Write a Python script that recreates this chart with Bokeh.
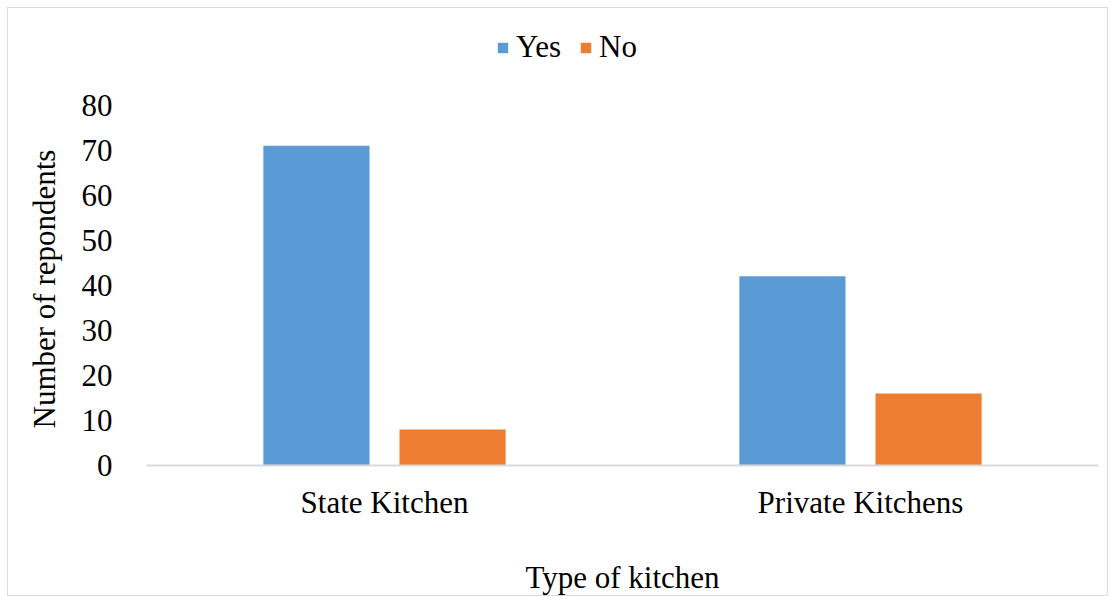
from bokeh.plotting import figure
from bokeh.models import FactorRange, Range1d, FixedTicker, Legend, LegendItem, ColumnDataSource, Title
from bokeh.transform import dodge
from bokeh.embed import file_html
from bokeh.resources import INLINE

categories = ["State Kitchen", "Private Kitchens"]
series = ["Yes", "No"]
yes_values = [71, 42]
no_values = [8, 16]
y_ticks = [0, 10, 20, 30, 40, 50, 60, 70, 80]
colors = ["#5B9BD5", "#ED7D31"]

FONT = "Liberation Serif"
FS = "31px"

src = ColumnDataSource(dict(cat=categories, yes=yes_values, no=no_values))

# y range extends above the top tick so the legend can sit inside the frame
p = figure(x_range=FactorRange(*categories), y_range=Range1d(0, 98.6),
           width=1101, height=589, output_backend="svg", toolbar_location=None,
           min_border_left=138, min_border_right=11, min_border_top=13, min_border_bottom=130)
p.margin = (7, 5, 0, 7)
p.styles = {"border": "1px solid #d9d9d9"}

r_yes = p.vbar(x=dodge("cat", -0.143, range=p.x_range), top="yes", width=0.223,
               source=src, fill_color=colors[0], line_color=None)
r_no = p.vbar(x=dodge("cat", 0.143, range=p.x_range), top="no", width=0.223,
              source=src, fill_color=colors[1], line_color=None)

p.xgrid.visible = False
p.ygrid.visible = False
p.outline_line_color = None

p.yaxis.ticker = FixedTicker(ticks=y_ticks)
p.yaxis.axis_line_color = None
p.yaxis.major_tick_line_color = None
p.yaxis.minor_tick_line_color = None
p.yaxis.major_label_standoff = 28

p.xaxis.axis_line_color = "#d9d9d9"
p.xaxis.axis_line_width = 2
p.xaxis.major_tick_line_color = None
p.xaxis.minor_tick_line_color = None
p.xaxis.major_label_standoff = 13
p.xaxis.axis_label = "Type of kitchen"
p.xaxis.axis_label_standoff = 37

for ax in (p.xaxis[0], p.yaxis[0]):
    ax.major_label_text_font = FONT
    ax.major_label_text_font_size = FS
    ax.major_label_text_color = "black"
    ax.axis_label_text_font = FONT
    ax.axis_label_text_font_size = FS
    ax.axis_label_text_font_style = "normal"
    ax.axis_label_text_color = "black"

ytitle = Title(text="Number of repondents", align="left", offset=37,
               text_font=FONT, text_font_size=FS, text_font_style="normal",
               text_color="black", standoff=33)
p.add_layout(ytitle, "left")

legend = Legend(items=[LegendItem(label=series[0], renderers=[r_yes]),
                       LegendItem(label=series[1], renderers=[r_no])],
                orientation="horizontal", location=(350, 400),
                border_line_color=None, background_fill_alpha=0,
                padding=0, margin=0, spacing=18, glyph_width=13, glyph_height=13,
                label_standoff=7, label_text_font=FONT, label_text_font_size=FS,
                label_text_color="black")
p.add_layout(legend, "center")

open("out.html", "w").write(file_html(p, INLINE))
